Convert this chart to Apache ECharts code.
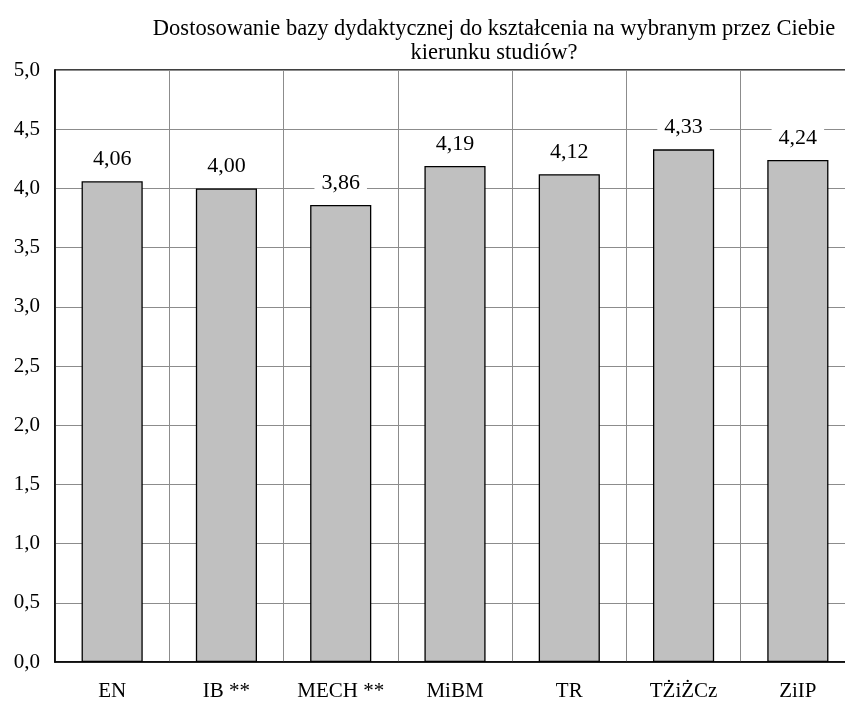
<!DOCTYPE html>
<html><head><meta charset="utf-8">
<script src="https://cdn.jsdelivr.net/npm/echarts@6/dist/echarts.min.js"></script>
<style>html,body{margin:0;padding:0;background:#fff;overflow:hidden;width:845px;height:702px}#c{width:870px;height:702px}</style>
</head><body><div id="c"></div>
<script>
const titleText = 'Dostosowanie bazy dydaktycznej do kształcenia na wybranym przez Ciebie\nkierunku studiów?';
const categories = ['EN', 'IB **', 'MECH **', 'MiBM', 'TR', 'TŻiŻCz', 'ZiIP'];
const values = [4.06, 4.00, 3.86, 4.19, 4.12, 4.33, 4.24];
const yMin = 0, yMax = 5, yStep = 0.5;
const fmt = v => v.toFixed(2).replace('.', ',');
const chart = echarts.init(document.getElementById('c'));
const font = '"Liberation Serif", "Times New Roman", serif';
chart.setOption({
  animation: false,
  backgroundColor: '#fff',
  title: {
    text: titleText, left: 489, top: 12, textAlign: 'center',
    textStyle: { fontFamily: font, fontSize: 22.5, fontWeight: 'normal', color: '#000', lineHeight: 24 }
  },
  grid: { left: 55, top: 70, width: 800, height: 594, show: true, borderColor: '#000', borderWidth: 1.5, backgroundColor: 'transparent' },
  xAxis: {
    type: 'category', data: categories,
    axisLine: { lineStyle: { color: '#000', width: 1.5 } },
    axisTick: { show: false },
    axisLabel: { interval: 0, fontFamily: font, fontSize: 21, color: '#000', margin: 19 },
    splitLine: { show: true, interval: 0, lineStyle: { color: '#8c8c8c', width: 1 } }
  },
  yAxis: {
    type: 'value', min: yMin, max: yMax, interval: yStep,
    axisLine: { show: true, lineStyle: { color: '#000', width: 1.5 } },
    axisTick: { show: false },
    axisLabel: { fontFamily: font, fontSize: 21, color: '#000', margin: 15, formatter: v => v.toFixed(1).replace('.', ',') },
    splitLine: { show: true, lineStyle: { color: '#8c8c8c', width: 1 } }
  },
  series: [{
    type: 'bar', data: values, barWidth: '53.5%',
    itemStyle: { color: '#c0c0c0', borderColor: '#000', borderWidth: 1.3 },
    label: {
      show: true, position: 'top', distance: 9, formatter: p => fmt(p.value),
      fontFamily: font, fontSize: 22, color: '#000', backgroundColor: '#fff', padding: [2, 7]
    }
  }]
});
</script></body></html>
